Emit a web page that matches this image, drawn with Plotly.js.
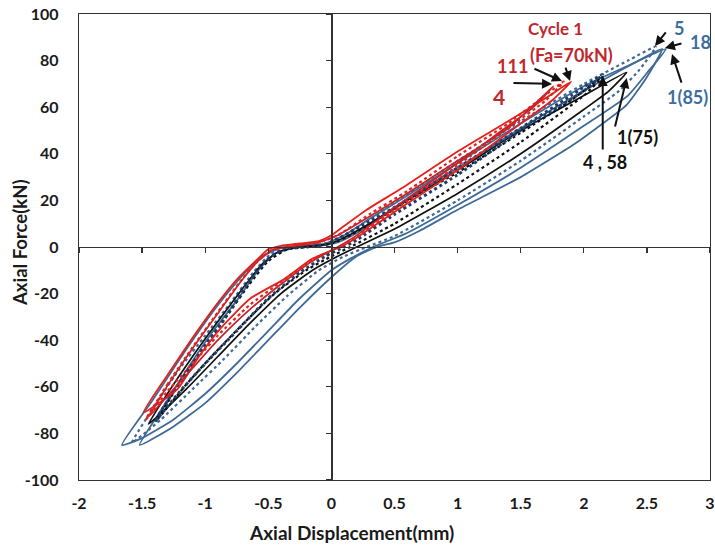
<!DOCTYPE html>
<html>
<head>
<meta charset="utf-8">
<script src="https://cdn.plot.ly/plotly-3.0.1.min.js"></script>
<style>
  html, body { margin: 0; padding: 0; background: #fff; }
  #chart { width: 715px; height: 547px; }
</style>
</head>
<body>
<div id="chart"></div>
<script>
// Hysteresis loops of axial force vs axial displacement.
// Each loop starts at its compression tip, climbs the loading branch to the
// tension peak, then returns along the unloading branch.

// Fa = 70 kN, cycle 1
const fa70c1X = [-1.49,-1.3,-1.1,-0.9,-0.75,-0.6,-0.5,-0.4,-0.25,-0.1,0,0.1,0.28,0.55,1.0,1.4,1.7,1.9,1.75,1.5,1.0,0.5,0.2,0.07,-0.15,-0.38,-0.64,-0.88,-1.05,-1.22,-1.49];
const fa70c1Y = [-71,-55,-39,-24,-14,-6,-1,0.5,1.5,2.5,5,9,16,25,41,54,64,71,63,53,33,15,4,0,-5,-14,-22,-35,-47,-61,-71];
// Fa = 70 kN, cycle 4
const fa70c4X = [-1.45,-1.28,-1.08,-0.88,-0.72,-0.58,-0.46,-0.3,-0.1,0.05,0.3,0.6,1.0,1.4,1.76,1.6,1.3,1.0,0.5,0.2,0.05,-0.15,-0.4,-0.65,-0.9,-1.1,-1.3,-1.45];
const fa70c4Y = [-73,-58,-42,-27,-15,-6,-1,0.5,2,5,13,23,37,51,69,60,48,36,17,5,0,-6,-16,-27,-40,-52,-64,-73];
// Fa = 70 kN, cycle 111
const fa70c111X = [-1.47,-1.3,-1.1,-0.9,-0.74,-0.6,-0.48,-0.3,-0.1,0.05,0.3,0.6,1.0,1.4,1.84,1.7,1.4,1.0,0.5,0.2,0.06,-0.15,-0.4,-0.65,-0.9,-1.1,-1.3,-1.47];
const fa70c111Y = [-74,-59,-43,-28,-16,-7,-1.5,0.5,2,5,14,24,39,53,71,63,51,35,16,4.5,0,-5.5,-15,-25,-38,-50,-62,-74];

// Fa = 75 kN, cycle 1
const fa75c1X = [-1.45,-1.3,-1.1,-0.9,-0.72,-0.56,-0.42,-0.25,-0.05,0.1,0.3,0.6,1.0,1.5,2.0,2.34,2.2,2.0,1.5,1.0,0.5,0.2,0.05,-0.15,-0.4,-0.65,-0.9,-1.15,-1.45];
const fa75c1Y = [-76,-63,-47,-32,-19,-8,-2,0,1,4,10,20,33,50,65,75,67,59,40,23,7.7,0,-4,-10,-20,-33,-47,-61,-76];
// Fa = 75 kN, cycle 4
const fa75c4X = [-1.38,-1.22,-1.02,-0.82,-0.65,-0.5,-0.35,-0.2,0,0.15,0.4,0.7,1.0,1.5,1.9,2.15,2.0,1.5,1.0,0.5,0.15,0,-0.2,-0.45,-0.7,-0.95,-1.15,-1.38];
const fa75c4Y = [-74,-60,-44,-29,-16,-6,-1,0,1.5,5,13,23,32,49,63,73,65,45,27,10,0,-4,-10,-20,-33,-47,-59,-74];
// Fa = 75 kN, cycle 58
const fa75c58X = [-1.4,-1.25,-1.05,-0.85,-0.68,-0.52,-0.38,-0.2,-0.05,0.1,0.3,0.5,1.0,1.5,1.9,2.15,2.0,1.5,1.0,0.5,0.2,0.1,-0.05,-0.25,-0.5,-0.75,-1.0,-1.2,-1.4];
const fa75c58Y = [-75,-62,-46,-31,-17,-6,-1,0,1,5,11,17,34,51,65,74,67,50,31,14,3,0,-4,-11,-22,-36,-50,-62,-75];

// Fa = 85 kN, cycle 1
const fa85c1X = [-1.66,-1.42,-1.25,-1.1,-0.9,-0.7,-0.55,-0.4,-0.2,-0.05,0.1,0.3,0.6,1.0,1.5,2.0,2.4,2.65,2.52,2.35,2.0,1.5,1.0,0.6,0.33,0.15,0,-0.25,-0.5,-0.75,-1.0,-1.25,-1.5,-1.66];
const fa85c1Y = [-85,-66,-52,-40,-25,-12,-4,-0.5,0.5,1.5,5,12,22,36,53,69,79,85,76,65,52,34,18,6,0,-5,-10,-22,-36,-50,-63,-74,-82,-85];
// Fa = 85 kN, cycle 5
const fa85c5X = [-1.58,-1.4,-1.2,-1.0,-0.8,-0.62,-0.48,-0.3,-0.1,0.05,0.25,0.5,1.0,1.5,2.0,2.35,2.57,2.44,2.28,2.0,1.5,1.0,0.5,0.28,0.1,-0.1,-0.35,-0.6,-0.85,-1.1,-1.35,-1.58];
const fa85c5Y = [-84,-68,-52,-38,-24,-11,-3,0,1,3,10,19,37,54,70,80,86,76,67,56,37,20,4.7,0,-4,-10,-21,-34,-48,-61,-74,-84];
// Fa = 85 kN, cycle 18
const fa85c18X = [-1.52,-1.35,-1.15,-0.95,-0.75,-0.58,-0.45,-0.3,-0.1,0.05,0.2,0.5,1.0,1.5,2.0,2.4,2.62,2.5,2.34,2.1,1.92,1.5,1.0,0.7,0.5,0.36,0.2,0,-0.25,-0.5,-0.75,-1.0,-1.25,-1.52];
const fa85c18Y = [-85,-70,-53,-37,-23,-10,-3,-0.5,0.5,2,6,17,34,51,67,79,85,73,61,51,44,30,16,7,2,0,-4,-13,-26,-40,-54,-67,-77,-85];

// Axis ticks
const xTicks = [-2,-1.5,-1,-0.5,0,0.5,1,1.5,2,2.5,3];
const xTickText = ['-2','-1.5','-1','-0.5','0','0.5','1','1.5','2','2.5','3'];
const yTicks = [-100,-80,-60,-40,-20,0,20,40,60,80,100];
const yTickText = ['-100','-80','-60','-40','-20','0','20','40','60','80','100'];

const RED = '#e3211d';
const DARKRED = '#c4232b';
const BLUE = '#3f6a96';
const NAVY = '#1d3e6d';
const BLACK = '#111111';
const FONT = 'Lato, "Open Sans", "DejaVu Sans", sans-serif';

function loop(x, y, color, dash, width) {
  return {
    type: 'scatter', mode: 'lines', x: x, y: y,
    line: { color: color, dash: dash, width: width, shape: 'spline', smoothing: 0.5 },
    hoverinfo: 'skip', showlegend: false
  };
}

const traces = [
  loop(fa85c1X, fa85c1Y, BLUE, 'solid', 1.8),
  loop(fa85c18X, fa85c18Y, BLUE, 'solid', 1.8),
  loop(fa85c5X, fa85c5Y, BLUE, 'dot', 2.2),
  loop(fa75c1X, fa75c1Y, BLACK, 'solid', 1.7),
  loop(fa75c4X, fa75c4Y, BLACK, 'dot', 2.2),
  loop(fa75c58X, fa75c58Y, NAVY, 'dot', 3),
  loop(fa70c1X, fa70c1Y, RED, 'solid', 1.8),
  loop(fa70c4X, fa70c4Y, DARKRED, 'solid', 1.7),
  loop(fa70c111X, fa70c111Y, RED, 'dot', 2.2),
  // empty traces so the axes drawn through the origin get their own subplots
  { type: 'scatter', x: [], y: [], xaxis: 'x2', yaxis: 'y', showlegend: false, hoverinfo: 'skip' },
  { type: 'scatter', x: [], y: [], xaxis: 'x', yaxis: 'y2', showlegend: false, hoverinfo: 'skip' }
];

const tickFont = { family: FONT, size: 16, color: '#1a1a1a', weight: 'bold' };

function note(text, x, y, color, size) {
  return { text: text, xref: 'paper', yref: 'paper', x: x, y: y,
    xanchor: 'center', yanchor: 'middle', showarrow: false,
    font: { family: FONT, size: size, color: color, weight: 'bold' } };
}
function arrow(x, y, ax, ay) {
  return { text: '', x: x, y: y, xref: 'x', yref: 'y', ax: ax, ay: ay,
    showarrow: true, arrowhead: 2, arrowsize: 1, arrowwidth: 2,
    arrowcolor: '#111', standoff: 0, startstandoff: 0 };
}

// paper-fraction helpers for text placed by pixel position in the figure
const L = 79, R = 710, T = 14, B = 480;
const px = v => (v - L) / (R - L);
const py = v => (B - v) / (B - T);

const annotations = [
  note('Cycle 1', px(555), py(28), '#c0272d', 17),
  note('(Fa=70kN)', px(571), py(55), '#c0272d', 18),
  note('111', px(512), py(66), '#c0272d', 18),
  note('4', px(499), py(96), '#c0272d', 21),
  note('5', px(679), py(28), '#3d6e9f', 18),
  note('18', px(700), py(42), '#3d6e9f', 18),
  note('1(85)', px(687), py(97), '#3d6e9f', 18),
  note('1(75)', px(637), py(137), '#111', 18),
  note('4 , 58', px(605), py(162), '#111', 18),
  arrow(1.891, 71.2, -5, -15),
  arrow(1.827, 71.2, -29, -13),
  arrow(1.748, 70.0, -40, -1),
  arrow(2.564, 86.3, 12, -15),
  arrow(2.643, 85.4, 18, -5),
  arrow(2.699, 82.8, 10, 30),
  arrow(2.34, 72.5, -12, 50),
  arrow(2.15, 73.4, 0, 75),
  // axis titles
  { text: 'Axial Displacement(mm)', xref: 'paper', yref: 'paper', x: px(351), y: py(532),
    xanchor: 'center', yanchor: 'middle', showarrow: false,
    font: { family: FONT, size: 19, color: '#1a1a1a', weight: 'bold' } },
  { text: 'Axial Force(kN)', xref: 'paper', yref: 'paper', x: px(20), y: py(243),
    xanchor: 'center', yanchor: 'middle', showarrow: false, textangle: -90,
    font: { family: FONT, size: 18.5, color: '#1a1a1a', weight: 'bold' } }
];

const layout = {
  width: 715, height: 547,
  margin: { l: L, r: 715 - R, t: T, b: 547 - B, pad: 0 },
  paper_bgcolor: '#ffffff', plot_bgcolor: '#ffffff',
  showlegend: false,
  xaxis: {
    range: [-2, 3], tickvals: xTicks, ticktext: xTickText,
    showgrid: false, zeroline: false, showline: true, mirror: true,
    linecolor: '#333', linewidth: 1.3, ticks: '', tickfont: tickFont,
    ticklabelstandoff: 8, fixedrange: true
  },
  yaxis: {
    range: [-100, 100], tickvals: yTicks, ticktext: yTickText,
    showgrid: false, zeroline: false, showline: true, mirror: true,
    linecolor: '#333', linewidth: 1.3, ticks: '', tickfont: tickFont,
    ticklabelstandoff: 16, fixedrange: true
  },
  // axes running through the origin, carrying the tick marks
  xaxis2: {
    overlaying: 'x', anchor: 'free', position: 0.5, side: 'bottom',
    range: [-2, 3], tickvals: xTicks, showticklabels: false,
    showgrid: false, zeroline: false, showline: true,
    linecolor: '#333', linewidth: 1.3, ticks: 'outside', ticklen: 5, tickwidth: 1.3, tickcolor: '#333',
    fixedrange: true
  },
  yaxis2: {
    overlaying: 'y', anchor: 'free', position: 0.4, side: 'left',
    range: [-100, 100], tickvals: yTicks, showticklabels: false,
    showgrid: false, zeroline: false, showline: true,
    linecolor: '#333', linewidth: 1.3, ticks: 'outside', ticklen: 5, tickwidth: 1.3, tickcolor: '#333',
    fixedrange: true
  },
  annotations: annotations
};

Plotly.newPlot('chart', traces, layout, { staticPlot: true, displayModeBar: false });
</script>
</body>
</html>
